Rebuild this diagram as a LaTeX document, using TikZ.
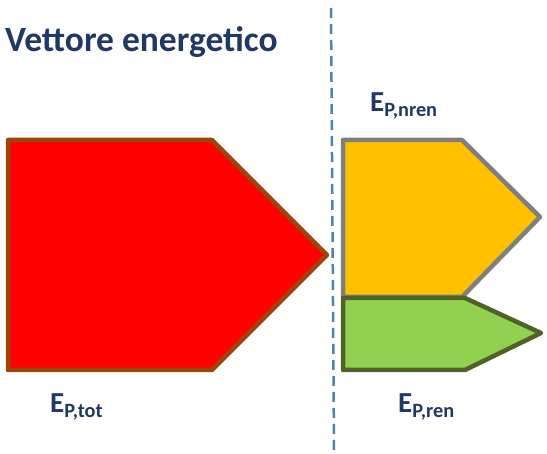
\documentclass[tikz,border=0pt]{standalone}
\usepackage{fontspec}
\setmainfont{Carlito}
\usepackage{xcolor}
\definecolor{navy}{HTML}{1F3864}
\definecolor{totfill}{HTML}{FF0000}
\definecolor{totline}{HTML}{984807}
\definecolor{nrenfill}{HTML}{FFC000}
\definecolor{nrenline}{HTML}{7F7F7F}
\definecolor{renfill}{HTML}{92D050}
\definecolor{renline}{HTML}{4F6228}
\definecolor{sepline}{HTML}{4F81BD}
\tikzset{
    label/.style={text=navy, font=\bfseries\fontsize{29}{33}\selectfont, inner sep=0pt, anchor=base west},
    tot/.style={draw=totline, fill=totfill, line width=4.5pt, line join=round},
    nren/.style={draw=nrenline, fill=nrenfill, line width=4.5pt, line join=round},
    ren/.style={draw=renline, fill=renfill, line width=4.5pt, line join=round}}

\begin{document}
\begin{tikzpicture}[x=1pt, y=-1pt]
    \useasboundingbox (0,0) rectangle (547,454);
    \node[label, font=\bfseries\fontsize{35.5}{40}\selectfont] at (5,52) (title) {Vettore energetico};
    % separatore
    \draw[sepline, line width=2.5pt, dash pattern=on 10pt off 6pt] (331,8) -- (334,450);
    % frecce
    \draw[tot] (8,140) -- (212,140) -- (327,255) -- (212,370) -- (8,370) -- cycle;
    \draw[nren] (343,140) -- (462,140) -- (540,217) -- (462,297) -- (343,297) -- cycle;
    \draw[ren] (343,298) -- (465,298) -- (541,333) -- (465,370) -- (343,370) -- cycle;
    \node[label] at (370,112) (nren) {E\textsubscript{P,nren}};
    \node[label] at (50,413) (tot) {E\textsubscript{P,tot}};
    \node[label] at (398,413) (ren) {E\textsubscript{P,ren}};
\end{tikzpicture}
\end{document}
